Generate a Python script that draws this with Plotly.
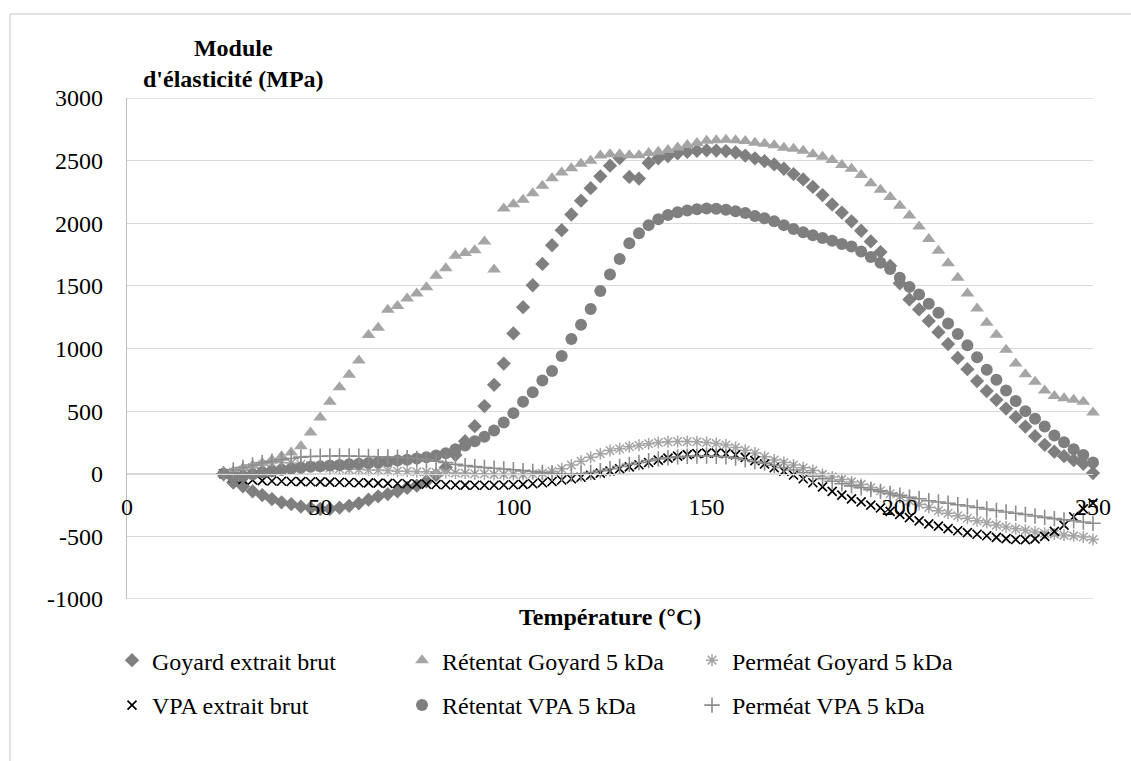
import plotly.graph_objects as go

# Temperature (°C)
temperature = [25, 27.5, 30, 32.5, 35, 37.5, 40, 42.5, 45, 47.5,
               50, 52.5, 55, 57.5, 60, 62.5, 65, 67.5, 70, 72.5,
               75, 77.5, 80, 82.5, 85, 87.5, 90, 92.5, 95, 97.5,
               100, 102.5, 105, 107.5, 110, 112.5, 115, 117.5, 120, 122.5,
               125, 127.5, 130, 132.5, 135, 137.5, 140, 142.5, 145, 147.5,
               150, 152.5, 155, 157.5, 160, 162.5, 165, 167.5, 170, 172.5,
               175, 177.5, 180, 182.5, 185, 187.5, 190, 192.5, 195, 197.5,
               200, 202.5, 205, 207.5, 210, 212.5, 215, 217.5, 220, 222.5,
               225, 227.5, 230, 232.5, 235, 237.5, 240, 242.5, 245, 247.5,
               250]

goyard_brut = [0, -70, -100, -140, -170, -202, -228, -242, -262, -273,
               -280, -281, -271, -256, -236, -207, -181, -162, -140, -113,
               -95, -60, -10, 50, 150, 260, 380, 540, 710, 880,
               1120, 1330, 1505, 1675, 1825, 1945, 2070, 2180, 2280, 2375,
               2460, 2520, 2370, 2357, 2481, 2518, 2537, 2558, 2571, 2579,
               2582, 2580, 2576, 2565, 2540, 2518, 2496, 2470, 2435, 2393,
               2350, 2290, 2225, 2150, 2085, 2015, 1940, 1855, 1770, 1660,
               1520, 1392, 1312, 1220, 1130, 1035, 925, 835, 740, 660,
               590, 520, 452, 377, 300, 231, 176, 140, 108, 80,
               5]

retentat_goyard = [0, 20, 45, 65, 85, 110, 140, 170, 220, 330,
                   450, 575, 690, 790, 905, 1108, 1165, 1310, 1340, 1400,
                   1440, 1490, 1580, 1640, 1740, 1762, 1785, 1855, 1630, 2118,
                   2152, 2188, 2240, 2300, 2360, 2405, 2440, 2475, 2500, 2540,
                   2550, 2550, 2542, 2542, 2560, 2570, 2585, 2605, 2625, 2640,
                   2658, 2662, 2666, 2663, 2657, 2642, 2635, 2622, 2603, 2595,
                   2578, 2550, 2530, 2505, 2465, 2435, 2385, 2320, 2268, 2210,
                   2140, 2062, 1975, 1875, 1780, 1680, 1565, 1440, 1320, 1205,
                   1110, 990, 880, 795, 735, 665, 620, 603, 590, 575,
                   490]

permeat_goyard = [0, 15, 30, 50, 70, 85, 90, 85, 75, 65,
                  55, 45, 40, 35, 35, 30, 30, 25, 20, 20,
                  15, 15, 10, 10, 5, 5, 0, 0, -5, -5,
                  -5, -5, 0, 5, 20, 40, 70, 100, 132, 160,
                  185, 200, 215, 228, 240, 250, 256, 258, 258, 255,
                  250, 242, 230, 210, 188, 165, 135, 110, 90, 70,
                  48, 25, -5, -25, -45, -65, -85, -110, -135, -160,
                  -180, -215, -245, -270, -295, -315, -335, -355, -375, -390,
                  -410, -425, -440, -452, -465, -475, -482, -490, -496, -505,
                  -525]

vpa_brut = [0, -30, -45, -50, -55, -58, -60, -62, -63, -64,
            -65, -67, -68, -70, -72, -73, -75, -77, -78, -80,
            -82, -84, -86, -88, -90, -91, -92, -92, -92, -90,
            -88, -85, -80, -72, -62, -50, -40, -28, -12, 5,
            22, 40, 55, 72, 90, 108, 125, 140, 152, 160,
            165, 165, 160, 150, 130, 105, 78, 48, 20, -10,
            -40, -72, -105, -140, -170, -200, -225, -250, -273, -300,
            -325, -350, -376, -400, -418, -438, -455, -470, -483, -495,
            -508, -518, -525, -526, -520, -500, -460, -410, -345, -280,
            -235]

retentat_vpa = [0, -30, -20, -5, 10, 20, 30, 40, 48, 55,
                60, 65, 70, 75, 80, 85, 90, 97, 105, 112,
                122, 132, 145, 163, 195, 225, 260, 295, 345, 410,
                484, 575, 650, 745, 820, 940, 1075, 1190, 1315, 1460,
                1590, 1715, 1840, 1920, 1985, 2032, 2066, 2088, 2102, 2112,
                2118, 2115, 2107, 2095, 2082, 2058, 2040, 2015, 1985, 1955,
                1928, 1905, 1882, 1860, 1835, 1815, 1775, 1730, 1685, 1635,
                1565, 1492, 1432, 1357, 1285, 1200, 1115, 1025, 930, 830,
                750, 665, 580, 500, 440, 377, 305, 252, 195, 150,
                90]

permeat_vpa = [0, 30, 50, 70, 88, 100, 112, 122, 133, 138,
               140, 142, 143, 142, 140, 138, 136, 134, 132, 128,
               122, 112, 100, 90, 75, 65, 57, 50, 44, 38,
               32, 25, 18, 10, 4, -2, -5, 0, 10, 25,
               40, 58, 75, 90, 105, 118, 128, 135, 140, 142,
               142, 140, 135, 125, 112, 98, 85, 68, 50, 30,
               10, -20, -40, -60, -80, -97, -112, -127, -141, -157,
               -172, -188, -200, -215, -225, -235, -247, -258, -270, -282,
               -293, -305, -315, -325, -337, -348, -358, -368, -375, -385,
               -395]

series_names = ["Goyard extrait brut", "Rétentat Goyard 5 kDa", "Perméat Goyard 5 kDa",
                "VPA extrait brut", "Rétentat VPA 5 kDa", "Perméat VPA 5 kDa"]
x_ticks = [0, 50, 100, 150, 200, 250]
y_ticks = [-1000, -500, 0, 500, 1000, 1500, 2000, 2500, 3000]

FONT = "Liberation Serif, Times New Roman, serif"
GRID = "#d9d9d9"

styles = [
    dict(symbol="diamond", size=11, color="#7f7f7f"),
    dict(symbol="triangle-up", size=12, color="#a5a5a5"),
    dict(symbol="asterisk-open", size=10, color="#a5a5a5", line=dict(color="#a5a5a5", width=1.5)),
    dict(symbol="x-thin-open", size=9, color="#000000", line=dict(color="#000000", width=1.7)),
    dict(symbol="circle", size=12, color="#7f7f7f"),
    dict(symbol="cross-thin-open", size=11, color="#8c8c8c", line=dict(color="#8c8c8c", width=1.6)),
]
data = [goyard_brut, retentat_goyard, permeat_goyard, vpa_brut, retentat_vpa, permeat_vpa]

fig = go.Figure()
for i, (name, ys, st) in enumerate(zip(series_names, data, styles)):
    fig.add_trace(go.Scatter(
        x=temperature, y=ys, name=name, mode="markers",
        marker=st, cliponaxis=False,
        legend="legend" if i < 3 else "legend2",
    ))

W, H = 1131, 761
L, R, T, B = 127, 1093, 98, 599.4

def px(xp):
    return (xp - L) / (R - L)

def py(yp):
    return (B - yp) / (B - T)

legend_common = dict(
    orientation="h", xanchor="left", yanchor="middle",
    entrywidth=245, entrywidthmode="pixels",
    font=dict(family=FONT, size=24, color="#000000"),
    bgcolor="rgba(0,0,0,0)", itemclick=False,
)

# gridlines at the two ends of the value axis (plotly drops those at the edges)
edge_grid = [dict(type="line", xref="paper", yref="y", x0=0, x1=1, y0=v, y1=v,
                  layer="below", line=dict(color=GRID, width=1.3))
             for v in (y_ticks[0], y_ticks[-1])]

fig.update_layout(
    width=W, height=H,
    margin=dict(l=L, r=W - R, t=T, b=H - B),
    paper_bgcolor="white", plot_bgcolor="white",
    font=dict(family=FONT, size=24, color="#000000"),
    showlegend=True,
    legend=dict(x=px(112), y=py(661), **legend_common),
    legend2=dict(x=px(112), y=py(706), **legend_common),
    xaxis=dict(
        range=[0, 250], tickvals=x_ticks, ticktext=[str(v) for v in x_ticks],
        anchor="free", position=0.25,
        showgrid=False, zeroline=False,
        showline=True, linecolor=GRID, linewidth=1.3,
        ticks="", ticklabelstandoff=11,
        tickfont=dict(family=FONT, size=24, color="#000000"),
    ),
    yaxis=dict(
        range=[y_ticks[0], y_ticks[-1]], tickvals=y_ticks, ticktext=[str(v) for v in y_ticks],
        showgrid=True, gridcolor=GRID, gridwidth=1.3,
        zeroline=False,
        showline=True, linecolor="#bfbfbf", linewidth=1.3,
        ticks="", ticklabelstandoff=18,
        tickfont=dict(family=FONT, size=24, color="#000000"),
    ),
    annotations=[
        dict(text="<b>Module<br>d'élasticité (MPa)</b>", xref="paper", yref="paper",
             x=px(233), y=py(63), xanchor="center", yanchor="middle", showarrow=False,
             font=dict(family=FONT, size=24, color="#000000")),
        dict(text="<b>Température (°C)</b>", xref="paper", yref="paper",
             x=px(610), y=py(617), xanchor="center", yanchor="middle", showarrow=False,
             font=dict(family=FONT, size=24, color="#000000")),
    ],
    shapes=edge_grid + [
        dict(type="line", xref="paper", yref="paper", x0=px(10), x1=px(10), y0=py(14), y1=py(800),
             line=dict(color=GRID, width=1.5)),
        dict(type="line", xref="paper", yref="paper", x0=px(10), x1=px(1200), y0=py(14), y1=py(14),
             line=dict(color=GRID, width=1.5)),
    ],
)

fig.write_html("out.html", config={"displayModeBar": False},
               post_script="document.body.style.margin='0';document.body.style.overflow='hidden';")
